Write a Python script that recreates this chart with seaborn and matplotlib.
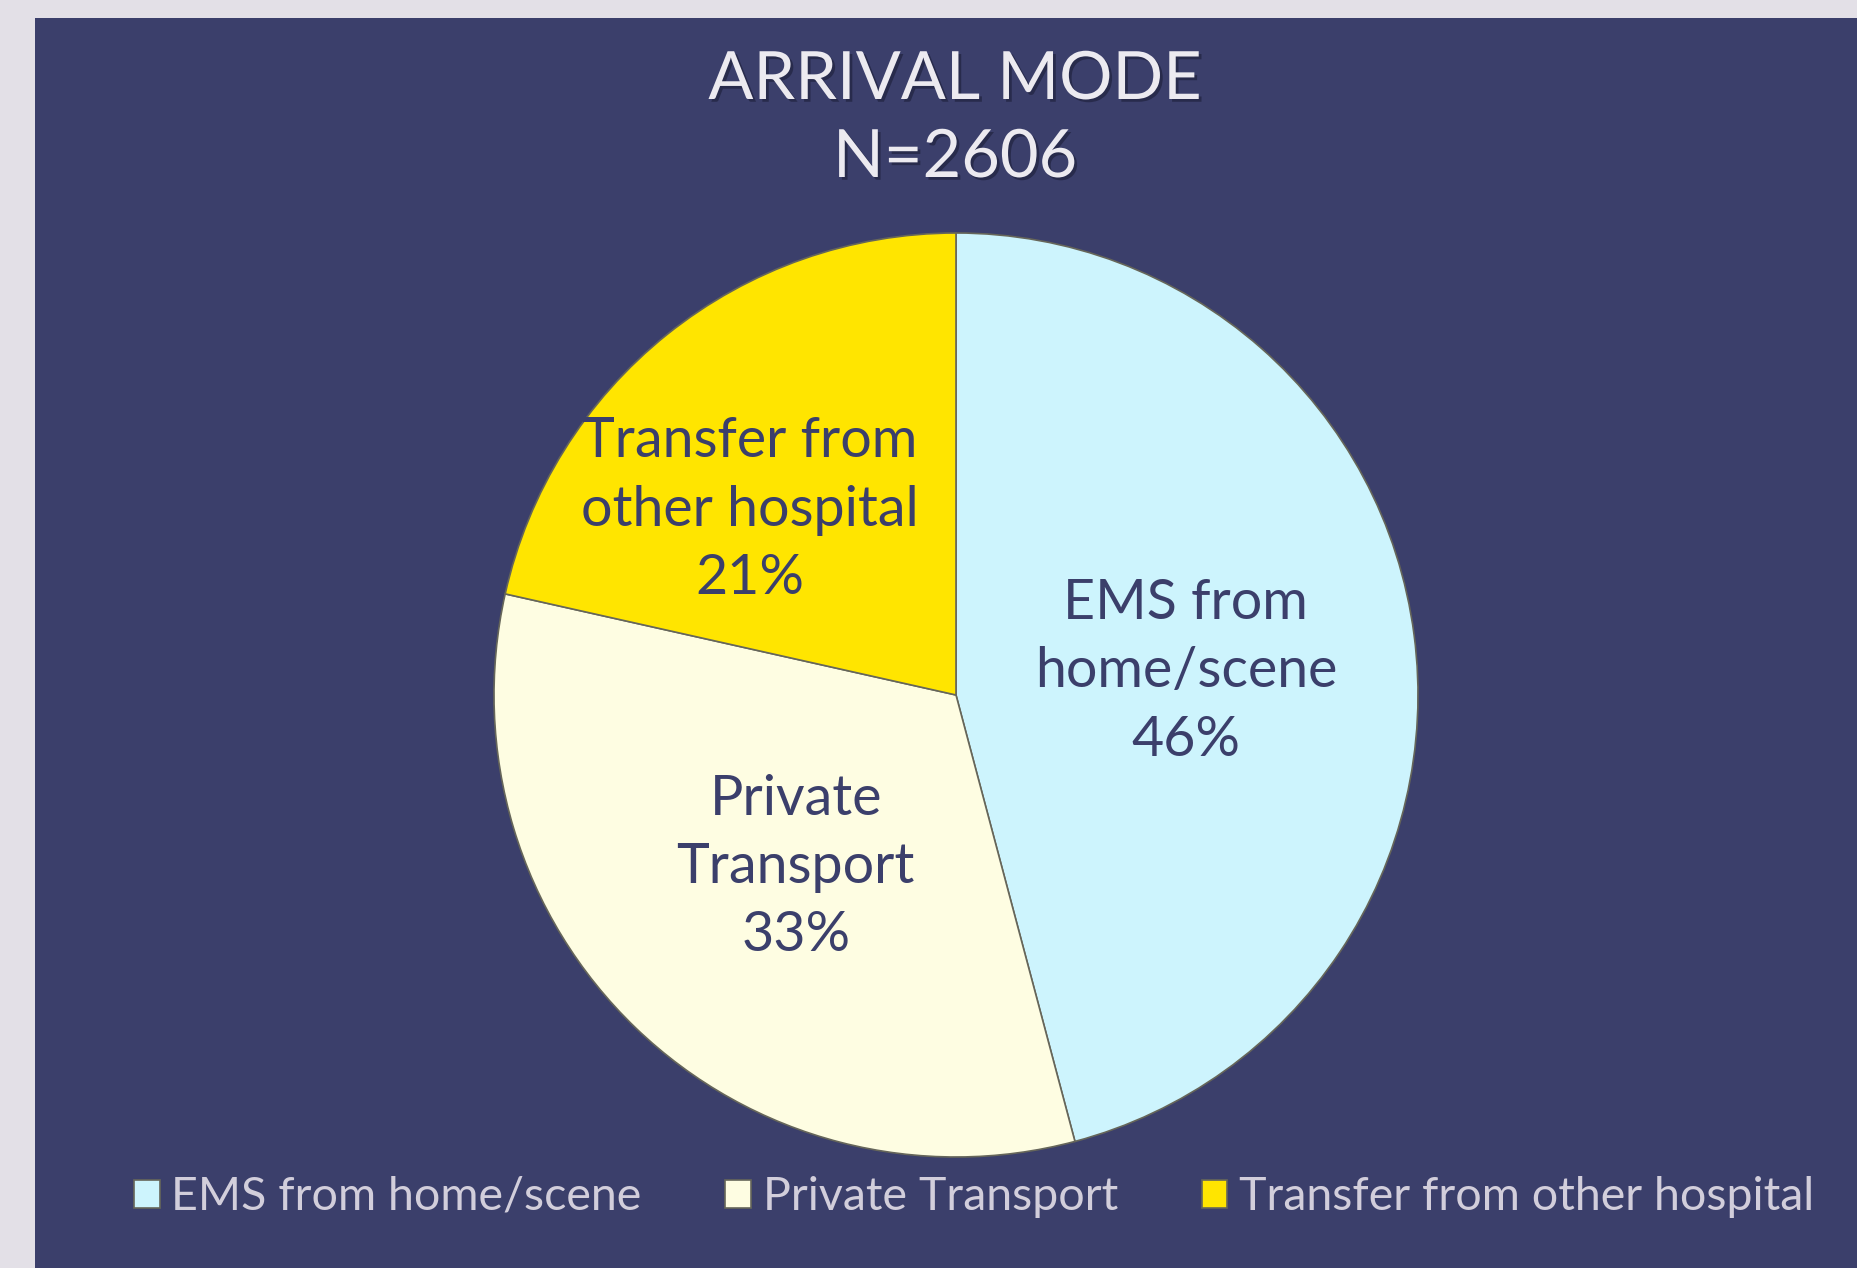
import matplotlib
matplotlib.use("Agg")
import matplotlib.pyplot as plt
import matplotlib.patheffects as pe
from matplotlib.patches import Rectangle
import numpy as np
import seaborn as sns

# data (N=2606, counts)
modes = ["EMS from home/scene", "Private Transport", "Transfer from other hospital"]
slice_labels = ["EMS from\nhome/scene", "Private\nTransport", "Transfer from\nother hospital"]
counts = [1195, 851, 560]
colors = ["#CDF4FD", "#FEFDE2", "#FFE500"]

navy = "#3B3F6B"
sns.set_theme(style="white")
plt.rcParams['font.family'] = ['Lato', 'DejaVu Sans']

W, H = 1858, 1268
fig = plt.figure(figsize=(W / 100, H / 100), dpi=100, facecolor="#E3E0E7")

# dark slide panel (behind everything)
fig.patches.append(Rectangle((35 / W, 0), 1, 1 - 18 / H, transform=fig.transFigure,
                             facecolor=navy, edgecolor="none", zorder=-5))

# pie axes, centre (956, 695) px, radius 462 px
cx, cy, r = 956, 695, 462
ax = fig.add_axes([(cx - r) / W, (H - cy - r) / H, 2 * r / W, 2 * r / H])
ax.set_facecolor("none")
wedges, _ = ax.pie(counts, colors=colors, startangle=90, counterclock=False,
                   radius=1.0, wedgeprops=dict(edgecolor="#66665a", linewidth=1.2))
ax.set_xlim(-1, 1)
ax.set_ylim(-1, 1)
ax.set_aspect("equal")
ax.axis("off")

# labels inside slices
total = sum(counts)
dist = [0.5, 0.51, 0.6]
shift = [-1.7, 1, 9.5]
for w, lab, c, d, sh in zip(wedges, slice_labels, counts, dist, shift):
    ang = np.deg2rad((w.theta1 + w.theta2) / 2 + sh)
    ax.text(d * np.cos(ang), d * np.sin(ang), f"{lab}\n{round(100 * c / total)}%",
            ha="center", va="center", fontsize=40, color=navy, linespacing=1.42)

# title
shadow = [pe.withSimplePatchShadow(offset=(2, -2), shadow_rgbFace="#1c1e38", alpha=0.6)]
fig.text(955 / W, 1 - 80 / H, "ARRIVAL MODE", ha="center", va="center", fontsize=48,
         color="#ECEAF0", path_effects=shadow)
fig.text(955 / W, 1 - 158 / H, "N=2606", ha="center", va="center", fontsize=48,
         color="#ECEAF0", path_effects=shadow)

# legend
leg = fig.legend(wedges, modes, loc="center", bbox_to_anchor=(974 / W, 1 - 1197 / H),
                 ncol=3, frameon=False, fontsize=33.5, handlelength=0.55, handleheight=0.55,
                 handletextpad=0.25, columnspacing=1.8)
for t in leg.get_texts():
    t.set_color("#D2CEDB")

plt.savefig("out.png", dpi=100, facecolor=fig.get_facecolor())
